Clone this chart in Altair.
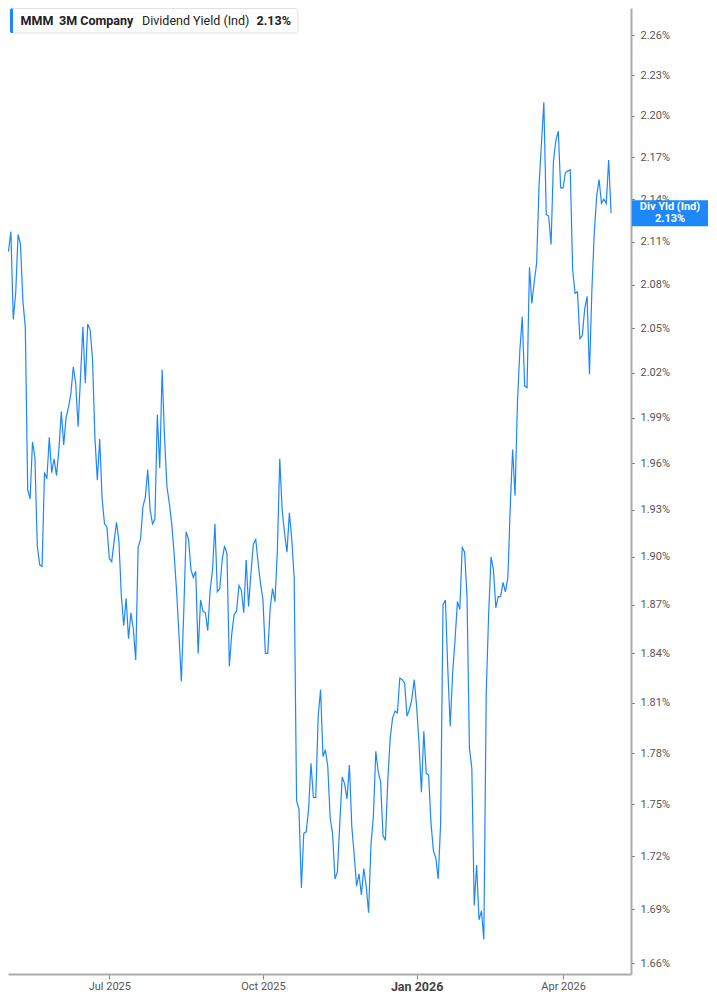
import altair as alt
import pandas as pd

# ---- Dividend yield (%), one value per trading day ----
apr25 = [2.103]
may25 = [2.117, 2.056, 2.074, 2.115, 2.108, 2.069, 2.051, 1.943, 1.937, 1.974,
         1.964, 1.907, 1.895, 1.894, 1.954, 1.950, 1.977, 1.954, 1.963, 1.952, 1.969]
jun25 = [1.994, 1.972, 1.990, 1.997, 2.006, 2.024, 2.013, 1.984, 2.017, 2.051,
         2.013, 2.053, 2.049, 2.029, 1.977, 1.949, 1.976, 1.937, 1.921, 1.919]
jul25 = [1.899, 1.897, 1.910, 1.922, 1.910, 1.876, 1.857, 1.874, 1.849, 1.865,
         1.855, 1.836, 1.906, 1.911, 1.932, 1.938, 1.956, 1.930, 1.921, 1.924, 1.992, 1.957]
aug25 = [2.022, 1.977, 1.945, 1.934, 1.921, 1.902, 1.879, 1.852, 1.823, 1.865,
         1.916, 1.911, 1.892, 1.887, 1.891, 1.840, 1.873, 1.866, 1.865, 1.854, 1.879]
sep25 = [1.892, 1.921, 1.878, 1.880, 1.898, 1.907, 1.902, 1.832, 1.852, 1.864,
         1.866, 1.882, 1.879, 1.865, 1.898, 1.869, 1.890, 1.908, 1.911, 1.896, 1.883]
oct25 = [1.873, 1.840, 1.840, 1.868, 1.880, 1.872, 1.904, 1.963, 1.930, 1.915,
         1.903, 1.928, 1.911, 1.887, 1.752, 1.747, 1.702, 1.733, 1.734, 1.747,
         1.774, 1.754, 1.754]
nov25 = [1.802, 1.818, 1.778, 1.782, 1.772, 1.742, 1.733, 1.707, 1.711, 1.739,
         1.766, 1.762, 1.753, 1.773, 1.737, 1.721, 1.703, 1.710, 1.698]
dec25 = [1.713, 1.703, 1.688, 1.727, 1.743, 1.781, 1.769, 1.763, 1.732, 1.729,
         1.764, 1.789, 1.801, 1.805, 1.804, 1.825, 1.824, 1.822, 1.802, 1.806, 1.812, 1.824]
jan26 = [1.808, 1.786, 1.757, 1.793, 1.768, 1.767, 1.739, 1.723, 1.719, 1.707,
         1.739, 1.870, 1.873, 1.830, 1.796, 1.828, 1.848, 1.872, 1.867, 1.906]
feb26 = [1.903, 1.875, 1.783, 1.771, 1.692, 1.715, 1.684, 1.689, 1.673, 1.816,
         1.864, 1.900, 1.892, 1.868, 1.875, 1.875, 1.884, 1.878, 1.887]
mar26 = [1.932, 1.969, 1.939, 2.000, 2.035, 2.058, 2.011, 2.010, 2.092, 2.067,
         2.082, 2.095, 2.150, 2.180, 2.210, 2.129, 2.128, 2.108, 2.167, 2.182, 2.189, 2.148]
apr26 = [2.148, 2.159, 2.160, 2.161, 2.090, 2.074, 2.075, 2.043, 2.045, 2.063,
         2.072, 2.019, 2.076, 2.116, 2.142, 2.154, 2.137, 2.140, 2.137, 2.168, 2.130]

market_holidays = ["2025-05-26", "2025-06-19", "2025-07-04", "2025-09-01", "2025-11-27",
                   "2025-12-25", "2026-01-01", "2026-01-19", "2026-02-16", "2026-04-03"]

x_tick_dates = ["2025-07-01", "2025-10-01", "2026-01-02", "2026-04-01"]
x_tick_labels = ["Jul 2025", "Oct 2025", "Jan 2026", "Apr 2026"]
y_ticks = [1.66, 1.69, 1.72, 1.75, 1.78, 1.81, 1.84, 1.87, 1.90, 1.93, 1.96,
           1.99, 2.02, 2.05, 2.08, 2.11, 2.14, 2.17, 2.20, 2.23, 2.26]

ticker = "MMM"
company = "3M Company"
metric = "Dividend Yield (Ind)"
badge = "Div Yld (Ind)"

# ---- build table ----
values = apr25 + may25 + jun25 + jul25 + aug25 + sep25 + oct25 + nov25 + dec25 + jan26 + feb26 + mar26 + apr26
cal = pd.offsets.CustomBusinessDay(holidays=market_holidays)
dates = pd.date_range("2025-04-30", "2026-04-30", freq=cal)
n = min(len(dates), len(values))
date_str = [d.strftime("%Y-%m-%d") for d in dates[:n]]
df = pd.DataFrame({"i": list(range(n)), "date": date_str, "v": values[:n]})
last = df.tail(1).copy()
last_label = f"{values[n-1]:.2f}%"

tick_idx = [date_str.index(d) for d in x_tick_dates]
jan_idx = tick_idx[2]
label_expr = " : ".join(f"datum.value == {i} ? '{l}'" for i, l in zip(tick_idx, x_tick_labels)) + " : ''"

BLUE = "#1E88FA"
AX = "#ababab"

x_enc = alt.X(
    "i:Q",
    title=None,
    scale=alt.Scale(domain=[-0.2, 259.3], nice=False, zero=False),
    axis=alt.Axis(
        values=tick_idx, labelExpr=label_expr, grid=False,
        domainColor=AX, domainWidth=2, tickColor="#888", tickSize=5, tickWidth=1,
        labelPadding=1, labelFont="Roboto",
        labelFontSize={"condition": {"test": f"datum.value == {jan_idx}", "value": 12.5}, "value": 11},
        labelFontWeight={"condition": {"test": f"datum.value == {jan_idx}", "value": "bold"}, "value": "normal"},
        labelColor={"condition": {"test": f"datum.value == {jan_idx}", "value": "#444"}, "value": "#555"},
    ),
)

y_scale = alt.Scale(type="log", domain=[1.65394, 2.2804], nice=False)
y_axis = alt.Axis(
    orient="right", values=y_ticks, labelExpr="format(datum.value, '.2f') + '%'",
    grid=False, domainColor=AX, domainWidth=2, tickColor="#666", tickSize=3, tickWidth=1,
    labelPadding=6, labelFont="Roboto", labelFontSize=11, labelColor="#555",
)

def y_enc():
    return alt.Y("v:Q", title=None, scale=y_scale, axis=y_axis)

line = alt.Chart(df).mark_line(color=BLUE, strokeWidth=1.2, clip=True).encode(
    x=x_enc, y=y_enc()
)

# right-side value badge, positioned at the last value on the y scale
badge_shape = "M-1,-0.342L1,-0.342L1,0.342L-1,0.342Z"
badge_bg = alt.Chart(last).mark_point(
    shape=badge_shape, size=76 * 76, filled=True, fill=BLUE, opacity=1, strokeWidth=0
).encode(x=alt.value(662), y=y_enc())
badge_t1 = alt.Chart(last).mark_text(
    text=badge, color="white", fontWeight="bold", fontSize=11, font="Roboto", dy=-6
).encode(x=alt.value(662), y=y_enc())
badge_t2 = alt.Chart(last).mark_text(
    text=last_label, color="white", fontWeight="bold", fontSize=11, font="Roboto", dy=6
).encode(x=alt.value(662), y=y_enc())

# legend box at top-left
one = pd.DataFrame({"k": [0]})
box = alt.Chart(one).mark_rect(fill="white", stroke="#e2e2e2", strokeWidth=1, cornerRadius=3).encode(
    x=alt.value(2), x2=alt.value(290), y=alt.value(0.5), y2=alt.value(25)
)
bar = alt.Chart(one).mark_rect(fill=BLUE, cornerRadiusTopLeft=3, cornerRadiusBottomLeft=3).encode(
    x=alt.value(2), x2=alt.value(5), y=alt.value(0.5), y2=alt.value(25)
)

def legend_text(txt, xpos, weight):
    return alt.Chart(one).mark_text(
        text=txt, align="left", baseline="middle", fontSize=12.5, font="Roboto",
        fontWeight=weight, color="#222"
    ).encode(x=alt.value(xpos), y=alt.value(13))

chart = alt.layer(
    line, badge_bg, badge_t1, badge_t2, box, bar,
    legend_text(ticker, 12.5, "bold"),
    legend_text(company, 51, "bold"),
    legend_text(metric, 134, "normal"),
    legend_text(last_label, 248.5, "bold"),
).properties(
    width=623, height=966, padding=0
).configure_view(stroke=None)

chart.save("out.html", embed_options={"renderer": "svg", "actions": False})
